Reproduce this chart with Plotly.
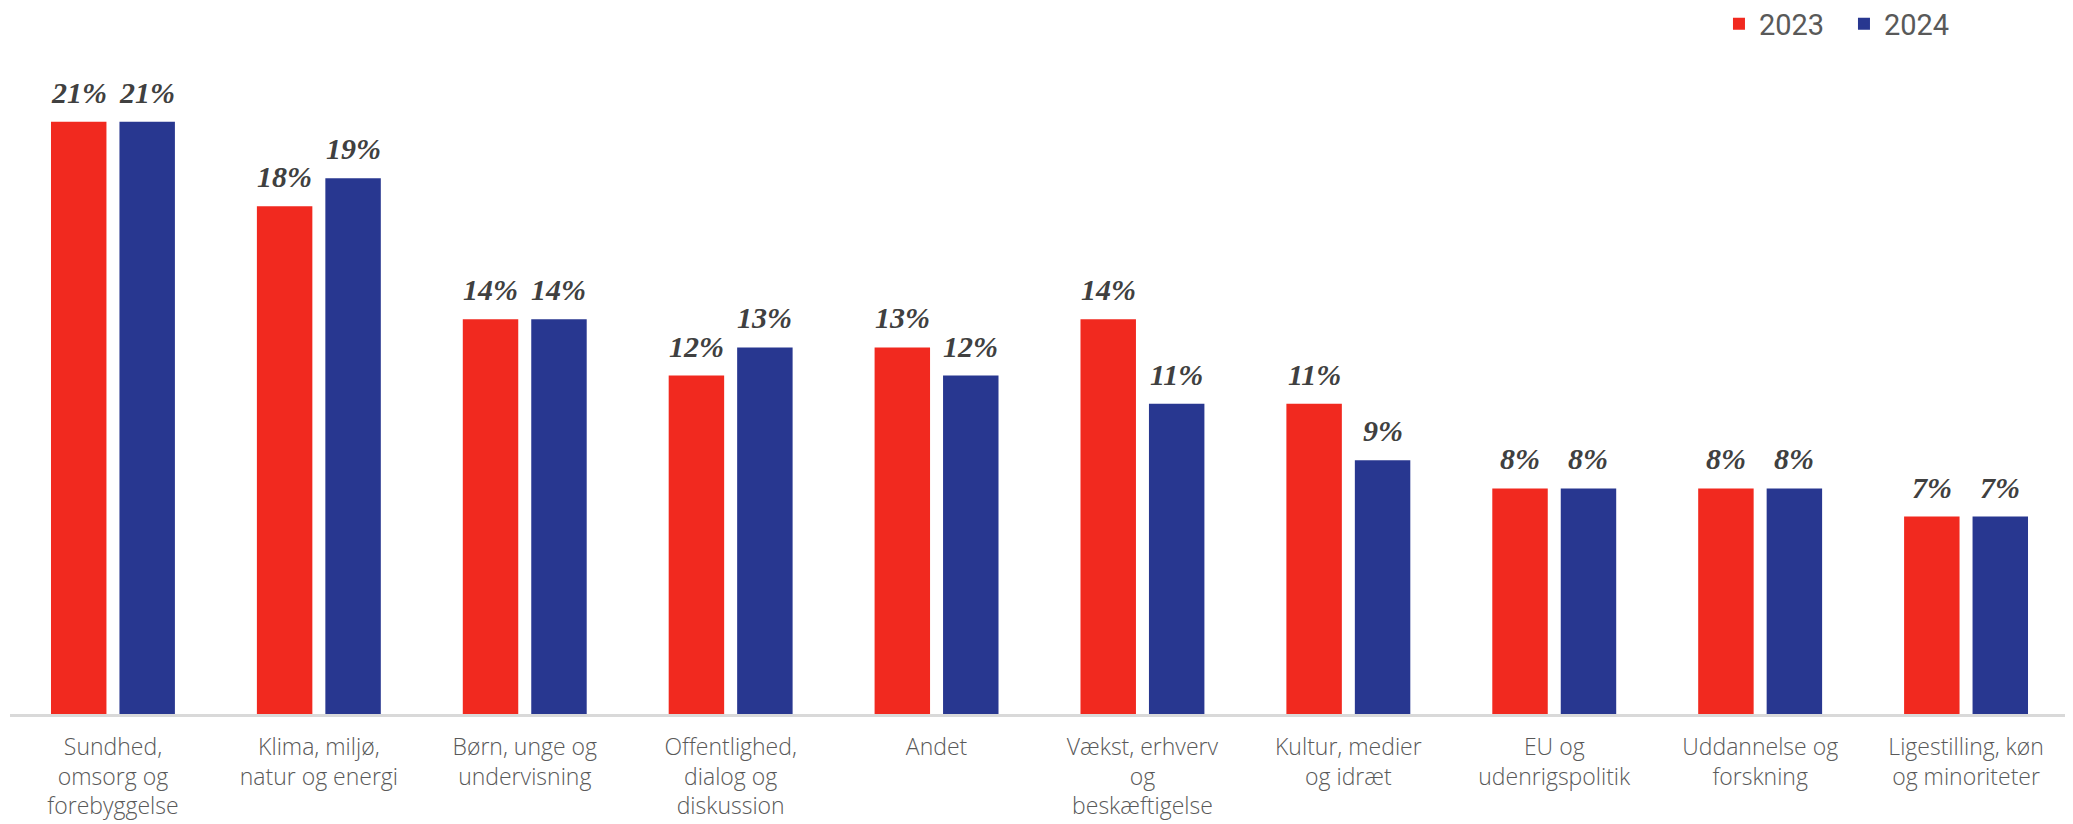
import plotly.graph_objects as go

categories = [
    "Sundhed,<br>omsorg og<br>forebyggelse",
    "Klima, miljø,<br>natur og energi",
    "Børn, unge og<br>undervisning",
    "Offentlighed,<br>dialog og<br>diskussion",
    "Andet",
    "Vækst, erhverv<br>og<br>beskæftigelse",
    "Kultur, medier<br>og idræt",
    "EU og<br>udenrigspolitik",
    "Uddannelse og<br>forskning",
    "Ligestilling, køn<br>og minoriteter",
]
values_2023 = [21, 18, 14, 12, 13, 14, 11, 8, 8, 7]
values_2024 = [21, 19, 14, 13, 12, 11, 9, 8, 8, 7]
series_names = ["2023", "2024"]
colors = ["#F1291F", "#283790"]

W, H = 2065, 816
ml, mr, mt, mb = 2, 4, 52, 110
ymax = 23.19
cat_w = (W - ml - mr) / len(categories)
bargap = 0.335
slot = (1 - bargap) * cat_w / 2

fig = go.Figure()
for name, vals, col in zip(series_names, [values_2023, values_2024], colors):
    fig.add_trace(go.Bar(x=categories, y=vals, name=name, marker_color=col,
                         marker_line_width=0))

label_font = dict(family="Liberation Serif", size=30, color="#404040",
                  style="italic", weight="bold")
annotations = []
for i, vals in enumerate([values_2023, values_2024]):
    shift = (i - 0.5) * slot
    for c, v in zip(categories, vals):
        annotations.append(dict(x=c, y=v, text=f"{v}%", showarrow=False,
                                xref="x", yref="y", yanchor="bottom",
                                xshift=shift, yshift=11, font=label_font))

plot_h = H - mt - mb
fig.update_layout(
    width=W, height=H,
    margin=dict(l=ml, r=mr, t=mt, b=mb, autoexpand=False),
    paper_bgcolor="white", plot_bgcolor="white",
    barmode="group", bargap=bargap, bargroupgap=0.19,
    annotations=annotations,
    legend=dict(orientation="h", x=0.83, xanchor="left",
                y=1 + (mt - 16) / plot_h, yanchor="middle",
                font=dict(family="Roboto", size=29, color="#595959"),
                itemwidth=30, entrywidth=80, traceorder="normal"),
    xaxis=dict(showline=True, linecolor="#D9D9D9", linewidth=3, ticks="",
               tickfont=dict(family="Open Sans", size=23, color="#595959", weight=300),
               ticklabelstandoff=10,
               automargin=False, showgrid=False, zeroline=False),
    yaxis=dict(range=[0, ymax], visible=False, showgrid=False, zeroline=False),
)

fig.write_html("out.html")
